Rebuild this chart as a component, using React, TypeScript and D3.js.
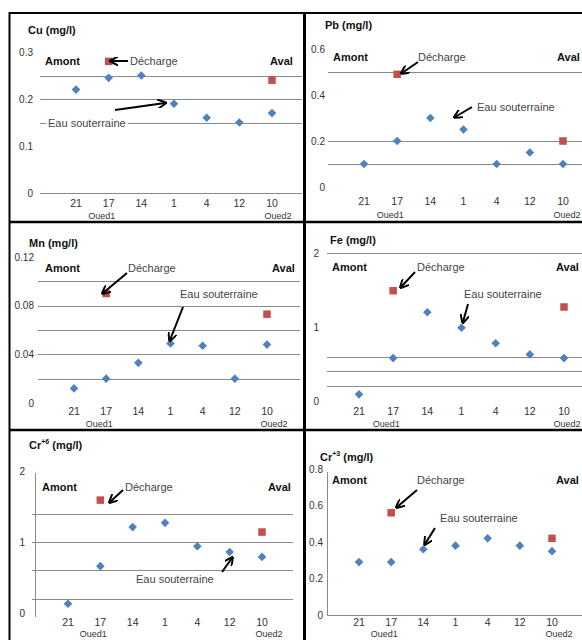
import React from 'react';
import * as d3 from 'd3';

// ---------- DATA ----------
const categories = ['21', '17', '14', '1', '4', '12', '10'];
const dischargeCategories = ['17', '10'];

const cuValues = [0.22, 0.245, 0.25, 0.19, 0.16, 0.15, 0.17];
const cuDischarge = [0.28, 0.24];
const pbValues = [0.1, 0.2, 0.3, 0.25, 0.1, 0.15, 0.1];
const pbDischarge = [0.49, 0.2];
const mnValues = [0.012, 0.02, 0.033, 0.049, 0.047, 0.02, 0.048];
const mnDischarge = [0.09, 0.073];
const feValues = [0.09, 0.58, 1.2, 0.99, 0.78, 0.63, 0.58];
const feDischarge = [1.49, 1.27];
const cr6Values = [0.13, 0.66, 1.21, 1.27, 0.94, 0.86, 0.79];
const cr6Discharge = [1.59, 1.14];
const cr3Values = [0.29, 0.29, 0.36, 0.38, 0.42, 0.38, 0.35];
const cr3Discharge = [0.56, 0.42];

const cuRefLines = [0.15, 0.2, 0.25];
const pbRefLines = [0.1, 0.2, 0.5];
const mnRefLines = [0.02, 0.04, 0.06, 0.08, 0.1];
const feRefLines = [0.2, 0.4, 0.6, 2];
const cr6RefLines = [0.2, 0.6, 1.0, 1.4];
const cr3RefLines: number[] = [];

const cuTicks = [0, 0.1, 0.2, 0.3];
const pbTicks = [0, 0.2, 0.4, 0.6];
const mnTicks = [0, 0.04, 0.08, 0.12];
const feTicks = [0, 1, 2];
const cr6Ticks = [0, 1, 2];
const cr3Ticks = [0, 0.2, 0.4, 0.6, 0.8];

const groupLabels = ['Oued1', 'Oued2'];

// ---------- LAYOUT ----------
type Pt = [number, number];
interface Panel {
  element: string;
  sup?: string;
  values: number[];
  discharge: number[];
  refLines: number[];
  ticks: number[];
  tickFmt: (v: number) => string;
  xr: [number, number];
  y0: number;
  yTopVal: number;
  yTop: number;
  gridX: [number, number];
  tickX: number;
  xLabelY: number;
  ouedY: number;
  oued2Dx: number;
  title: Pt;
  baseline?: boolean;
  yAxis?: [number, number, number];
  xAxis?: [number, number, number];
  amont: Pt;
  aval: Pt;
  decharge: Pt;
  eau: Pt;
  eauBg?: boolean;
  arrowD: [Pt, Pt];
  arrowE: [Pt, Pt];
}

const fmt1 = (v: number) => (v === 0 ? '0' : d3.format('.1f')(v));
const fmt2 = (v: number) => (v === 0 ? '0' : d3.format('.2f')(v));
const fmt0 = (v: number) => d3.format('d')(v);

const panels: Panel[] = [
  {
    element: 'Cu', values: cuValues, discharge: cuDischarge, refLines: cuRefLines, ticks: cuTicks, tickFmt: fmt1,
    xr: [76, 272], y0: 193, yTopVal: 0.3, yTop: 52, gridX: [40, 302], tickX: 33, xLabelY: 203, ouedY: 216, oued2Dx: 6,
    title: [28, 30], baseline: true,
    amont: [45, 61], aval: [270, 61], decharge: [130, 61], eau: [48, 123], eauBg: true,
    arrowD: [[128, 61], [111, 61]], arrowE: [[115, 110], [165, 103]],
  },
  {
    element: 'Pb', values: pbValues, discharge: pbDischarge, refLines: pbRefLines, ticks: pbTicks, tickFmt: fmt1,
    xr: [364, 563], y0: 187, yTopVal: 0.6, yTop: 49, gridX: [328, 582], tickX: 325, xLabelY: 201, ouedY: 215, oued2Dx: 4,
    title: [325, 25],
    amont: [333, 57], aval: [557, 57], decharge: [418, 57], eau: [477, 107],
    arrowD: [[418, 62], [402, 73]], arrowE: [[472, 107], [455, 117]],
  },
  {
    element: 'Mn', values: mnValues, discharge: mnDischarge, refLines: mnRefLines, ticks: mnTicks, tickFmt: fmt2,
    xr: [74, 267], y0: 403, yTopVal: 0.12, yTop: 257, gridX: [38, 300], tickX: 34, xLabelY: 411, ouedY: 424, oued2Dx: 7,
    title: [29, 243],
    amont: [45, 268], aval: [272, 268], decharge: [128, 268], eau: [180, 294],
    arrowD: [[127, 273], [103, 293]], arrowE: [[183, 307], [170, 340]],
  },
  {
    element: 'Fe', values: feValues, discharge: feDischarge, refLines: feRefLines, ticks: feTicks, tickFmt: fmt0,
    xr: [359, 564], y0: 401, yTopVal: 2, yTop: 253, gridX: [327, 582], tickX: 319, xLabelY: 411, ouedY: 424, oued2Dx: 3,
    title: [330, 240],
    amont: [332, 267], aval: [556, 267], decharge: [417, 267], eau: [464, 294],
    arrowD: [[415, 272], [401, 287]], arrowE: [[468, 304], [463, 322]],
  },
  {
    element: 'Cr', sup: '+6', values: cr6Values, discharge: cr6Discharge, refLines: cr6RefLines, ticks: cr6Ticks, tickFmt: fmt0,
    xr: [68, 262], y0: 613, yTopVal: 2, yTop: 471, gridX: [32, 293], tickX: 25, xLabelY: 622, ouedY: 633.5, oued2Dx: 7,
    title: [29, 445], yAxis: [35, 473, 617],
    amont: [42, 487], aval: [268, 487], decharge: [125, 487], eau: [136, 579],
    arrowD: [[123, 490], [110, 502]], arrowE: [[222, 572], [232, 558]],
  },
  {
    element: 'Cr', sup: '+3', values: cr3Values, discharge: cr3Discharge, refLines: cr3RefLines, ticks: cr3Ticks, tickFmt: fmt1,
    xr: [359, 552], y0: 615, yTopVal: 0.8, yTop: 469, gridX: [327, 582], tickX: 323, xLabelY: 622, ouedY: 633.5, oued2Dx: 7,
    title: [320, 457], yAxis: [327, 472, 615], xAxis: [615, 327, 582],
    amont: [332, 480], aval: [556, 480], decharge: [417, 480], eau: [440, 518],
    arrowD: [[417, 490], [397, 507]], arrowE: [[435, 528], [425, 544]],
  },
];

const BLUE = '#4F81BD';
const RED = '#C0504D';
const GRID = '#8a8a8a';
const FONT = '"Liberation Sans", Arial, sans-serif';
const DIAMOND = 'M0,-4.3L4.3,0L0,4.3L-4.3,0Z';

function PanelView({ p }: { p: Panel }) {
  const x = d3.scalePoint<string>().domain(categories).range(p.xr);
  const y = d3.scaleLinear().domain([0, p.yTopVal]).range([p.y0, p.yTop]);
  return (
    <g>
      {p.refLines.map((v) => (
        <line key={'g' + v} x1={p.gridX[0]} x2={p.gridX[1]} y1={Math.round(y(v)) + 0.5} y2={Math.round(y(v)) + 0.5}
          stroke={GRID} strokeWidth={1} />
      ))}
      {p.baseline && (
        <line x1={p.gridX[0]} x2={p.gridX[1]} y1={Math.round(y(0)) + 0.5} y2={Math.round(y(0)) + 0.5} stroke={GRID} strokeWidth={1} />
      )}
      {p.yAxis && (
        <line x1={p.yAxis[0] + 0.5} x2={p.yAxis[0] + 0.5} y1={p.yAxis[1]} y2={p.yAxis[2]} stroke={GRID} strokeWidth={1} />
      )}
      {p.xAxis && (
        <line x1={p.xAxis[1]} x2={p.xAxis[2]} y1={p.xAxis[0] + 0.5} y2={p.xAxis[0] + 0.5} stroke={GRID} strokeWidth={1} />
      )}
      {p.ticks.map((t) => (
        <text key={'t' + t} x={p.tickX} y={y(t)} textAnchor="end" dominantBaseline="central" fontSize={10} fill="#333">
          {p.tickFmt(t)}
        </text>
      ))}
      {categories.map((c) => (
        <text key={'c' + c} x={x(c)} y={p.xLabelY} textAnchor="middle" dominantBaseline="central" fontSize={10.5} fill="#333">
          {c}
        </text>
      ))}
      <text x={(x('17') as number) - 7} y={p.ouedY} textAnchor="middle" dominantBaseline="central" fontSize={9} fill="#333">
        {groupLabels[0]}
      </text>
      <text x={(x('10') as number) + p.oued2Dx} y={p.ouedY} textAnchor="middle" dominantBaseline="central" fontSize={9} fill="#333">
        {groupLabels[1]}
      </text>
      <text x={p.title[0]} y={p.title[1]} dominantBaseline="central" fontSize={11} fontWeight="bold" fill="#111">
        {p.element}
        {p.sup && <tspan fontSize={7} dy={-4}>{p.sup}</tspan>}
        {p.sup ? <tspan dy={4}>{' (mg/l)'}</tspan> : ' (mg/l)'}
      </text>
      <text x={p.amont[0]} y={p.amont[1]} dominantBaseline="central" fontSize={11} fontWeight="bold" fill="#111">Amont</text>
      <text x={p.aval[0]} y={p.aval[1]} dominantBaseline="central" fontSize={11} fontWeight="bold" fill="#111">Aval</text>
      <text x={p.decharge[0]} y={p.decharge[1]} dominantBaseline="central" fontSize={11} fill="#444">Décharge</text>
      {p.eauBg && <rect x={p.eau[0] - 2} y={p.eau[1] - 7} width={82} height={14} fill="#fff" />}
      <text x={p.eau[0]} y={p.eau[1]} dominantBaseline="central" fontSize={11} fill="#444">Eau souterraine</text>
      {p.values.map((v, i) => (
        <path key={'d' + i} d={DIAMOND} transform={`translate(${x(categories[i])},${y(v)})`} fill={BLUE} />
      ))}
      {p.discharge.map((v, i) => (
        <rect key={'s' + i} x={(x(dischargeCategories[i]) as number) - 3.75} y={y(v) - 3.75} width={7.5} height={7.5} fill={RED} />
      ))}
      {[p.arrowD, p.arrowE].map((a, i) => (
        <line key={'a' + i} x1={a[0][0]} y1={a[0][1]} x2={a[1][0]} y2={a[1][1]} stroke="#000" strokeWidth={2}
          markerEnd="url(#arrow)" />
      ))}
    </g>
  );
}

export default function App() {
  return (
    <svg width={582} height={640} style={{ position: 'absolute', left: 0, top: 0, background: '#fff' }}
      fontFamily={FONT}>
      <defs>
        <marker id="arrow" viewBox="0 0 10 10" refX="8" refY="5" markerWidth="9" markerHeight="9"
          markerUnits="userSpaceOnUse" orient="auto">
          <path d="M0,0 L10,5 L0,10" fill="none" stroke="#000" strokeWidth={2.2} />
        </marker>
      </defs>
      <rect x={0} y={0} width={582} height={640} fill="#fff" />
      {panels.map((p, i) => (
        <PanelView key={i} p={p} />
      ))}
      <g stroke="#000" fill="none">
        <line x1={9} x2={582} y1={13} y2={13} strokeWidth={2} />
        <line x1={9} x2={582} y1={222} y2={222} strokeWidth={2.5} />
        <line x1={9} x2={582} y1={430} y2={430} strokeWidth={2.5} />
        <line x1={9.5} x2={9.5} y1={12} y2={640} strokeWidth={2} />
        <line x1={304.5} x2={304.5} y1={12} y2={640} strokeWidth={3} />
      </g>
    </svg>
  );
}
